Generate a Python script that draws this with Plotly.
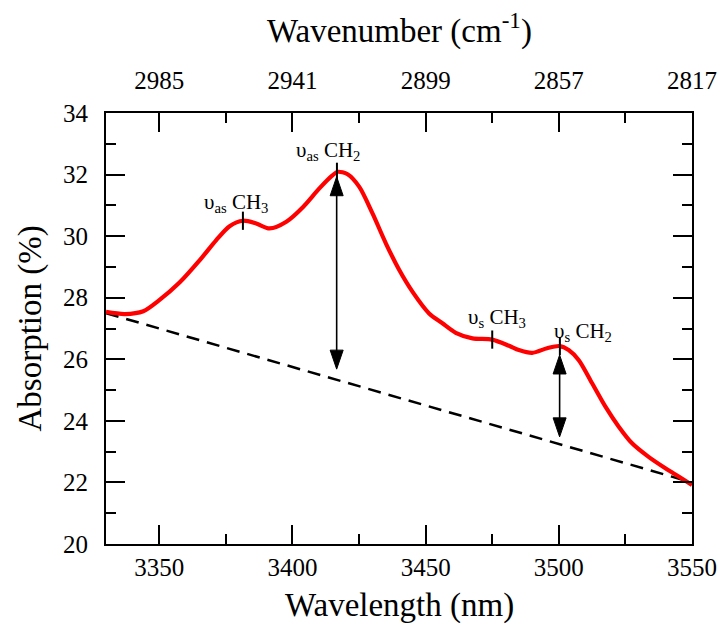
import plotly.graph_objects as go

# ---- data ----
wavelength = [3330, 3337, 3344, 3350, 3357.7, 3365.2, 3371.4, 3376.4, 3381.4, 3386.4,
              3391.4, 3397.7, 3404, 3410.1, 3415.1, 3417, 3420.7, 3425.1, 3430.1, 3435.1,
              3440.1, 3445.1, 3451.3, 3456.3, 3461.3, 3467.6, 3475, 3481.3, 3485, 3490,
              3495.6, 3500.3, 3503.7, 3507.5, 3512.5, 3517.5, 3522.5, 3527.5, 3533.7,
              3540, 3545, 3550]
absorption = [27.54, 27.47, 27.56, 27.92, 28.5, 29.22, 29.87, 30.32, 30.5, 30.41,
              30.25, 30.47, 30.95, 31.55, 31.98, 32.09, 32.01, 31.6, 30.73, 29.76,
              28.9, 28.19, 27.49, 27.17, 26.86, 26.68, 26.64, 26.44, 26.3, 26.21,
              26.36, 26.43, 26.3, 25.97, 25.22, 24.46, 23.81, 23.27, 22.83,
              22.46, 22.19, 21.92]

baseline_x = [3330, 3550]
baseline_y = [27.5, 22.0]

peak_x = [3381.4, 3416.7, 3475.0, 3500.4]
peak_y = [30.5, 32.09, 26.64, 26.43]
peak_labels = ["υ<sub>as</sub> CH<sub>3</sub>", "υ<sub>as</sub> CH<sub>2</sub>",
               "υ<sub>s</sub> CH<sub>3</sub>", "υ<sub>s</sub> CH<sub>2</sub>"]
label_x = [3378.9, 3413.5, 3476.8, 3509.0]
label_y = [31.07, 32.75, 27.34, 26.9]

arrow_x = [3416.6, 3500.3]
arrow_top = [31.93, 26.14]
arrow_bottom = [25.68, 23.48]

x_ticks = [3350, 3400, 3450, 3500, 3550]
x_minor = [3375, 3425, 3475, 3525]
wavenumber_labels = ["2985", "2941", "2899", "2857", "2817"]

X_RANGE = [3330, 3550]
Y_RANGE = [20, 34]

# ---- geometry ----
W, H = 721, 631
ML, MR, MT, MB = 106, 29, 113, 87
plot_w = W - ML - MR
plot_h = H - MT - MB
xs = (X_RANGE[1] - X_RANGE[0]) / plot_w   # data units per px
ys = (Y_RANGE[1] - Y_RANGE[0]) / plot_h

FONT = "Liberation Serif, Times New Roman, serif"

fig = go.Figure()

# baseline
fig.add_trace(go.Scatter(x=baseline_x, y=baseline_y, mode="lines",
                         line=dict(color="black", width=2.5, dash="13px,8px"),
                         hoverinfo="skip", showlegend=False))
# spectrum
fig.add_trace(go.Scatter(x=wavelength, y=absorption, mode="lines",
                         line=dict(color="#ff0000", width=4.2, shape="spline", smoothing=0.8),
                         showlegend=False))
# peak tick markers
fig.add_trace(go.Scatter(x=peak_x, y=peak_y, mode="markers",
                         marker=dict(symbol="line-ns", size=13,
                                     line=dict(color="black", width=2)),
                         hoverinfo="skip", showlegend=False))

# arrows
HL, HW = 19, 13  # head length / width in px
for ax_, top, bot in zip(arrow_x, arrow_top, arrow_bottom):
    fig.add_trace(go.Scatter(x=[ax_, ax_], y=[top - HL * ys * 0.5, bot + HL * ys * 0.5],
                             mode="lines", line=dict(color="black", width=1.6),
                             hoverinfo="skip", showlegend=False))
    fig.add_trace(go.Scatter(x=[ax_, ax_ - HW / 2 * xs, ax_ + HW / 2 * xs, ax_],
                             y=[top, top - HL * ys, top - HL * ys, top],
                             mode="lines", fill="toself", fillcolor="black",
                             line=dict(color="black", width=1),
                             hoverinfo="skip", showlegend=False))
    fig.add_trace(go.Scatter(x=[ax_, ax_ - HW / 2 * xs, ax_ + HW / 2 * xs, ax_],
                             y=[bot, bot + HL * ys, bot + HL * ys, bot],
                             mode="lines", fill="toself", fillcolor="black",
                             line=dict(color="black", width=1),
                             hoverinfo="skip", showlegend=False))

# invisible trace on top axis
fig.add_trace(go.Scatter(x=baseline_x, y=baseline_y, xaxis="x2", mode="lines",
                         line=dict(color="rgba(0,0,0,0)", width=0),
                         hoverinfo="skip", showlegend=False))

for lx, ly, lt in zip(label_x, label_y, peak_labels):
    fig.add_annotation(x=lx, y=ly, text=lt, showarrow=False,
                       xanchor="center", yanchor="middle",
                       font=dict(family=FONT, size=21, color="black"))

# axis titles
fig.add_annotation(xref="paper", yref="paper", x=0.5, y=0, yshift=-61,
                   xanchor="center", yanchor="middle",
                   text="Wavelength (nm)", showarrow=False,
                   font=dict(family=FONT, size=33, color="black"))
fig.add_annotation(xref="paper", yref="paper", x=0.5, y=1, yshift=85,
                   xanchor="center", yanchor="middle",
                   text="Wavenumber (cm<sup>-1</sup>)", showarrow=False,
                   font=dict(family=FONT, size=33, color="black"))
fig.add_annotation(xref="paper", yref="paper", x=0, y=0.5, xshift=-76,
                   xanchor="center", yanchor="middle",
                   text="Absorption (%)", textangle=-90, showarrow=False,
                   font=dict(family=FONT, size=33, color="black"))

axis_common = dict(showgrid=False, zeroline=False, showline=True, linecolor="black",
                   linewidth=2, ticks="inside", ticklen=19, tickwidth=2,
                   tickcolor="black", automargin=False,
                   tickfont=dict(family=FONT, size=25, color="black"))

fig.update_layout(
    template="none",
    width=W, height=H,
    margin=dict(l=ML, r=MR, t=MT, b=MB, pad=0, autoexpand=False),
    paper_bgcolor="white", plot_bgcolor="white",
    xaxis=dict(range=X_RANGE, tickmode="array", tickvals=x_ticks,
               ticktext=[str(v) for v in x_ticks],
               minor=dict(tickmode="array", tickvals=x_minor, ticks="inside",
                          ticklen=10, tickwidth=2, tickcolor="black"),
               ticklabelstandoff=0,
               **axis_common),
    xaxis2=dict(range=X_RANGE, overlaying="x", side="top", anchor="y",
                tickmode="array", tickvals=x_ticks, ticktext=wavenumber_labels,
                minor=dict(tickmode="array", tickvals=x_minor, ticks="inside",
                           ticklen=10, tickwidth=2, tickcolor="black"),
                ticklabelstandoff=12,
                **axis_common),
    yaxis=dict(range=Y_RANGE, dtick=2, tick0=20, mirror="ticks",
               minor=dict(dtick=1, ticks="inside", ticklen=10, tickwidth=2,
                          tickcolor="black"),
               ticklabelstandoff=11,
               **axis_common),
)

fig.write_html("out.html", config={"displayModeBar": False},
               post_script="document.body.style.margin='0';document.body.style.overflow='hidden';")
